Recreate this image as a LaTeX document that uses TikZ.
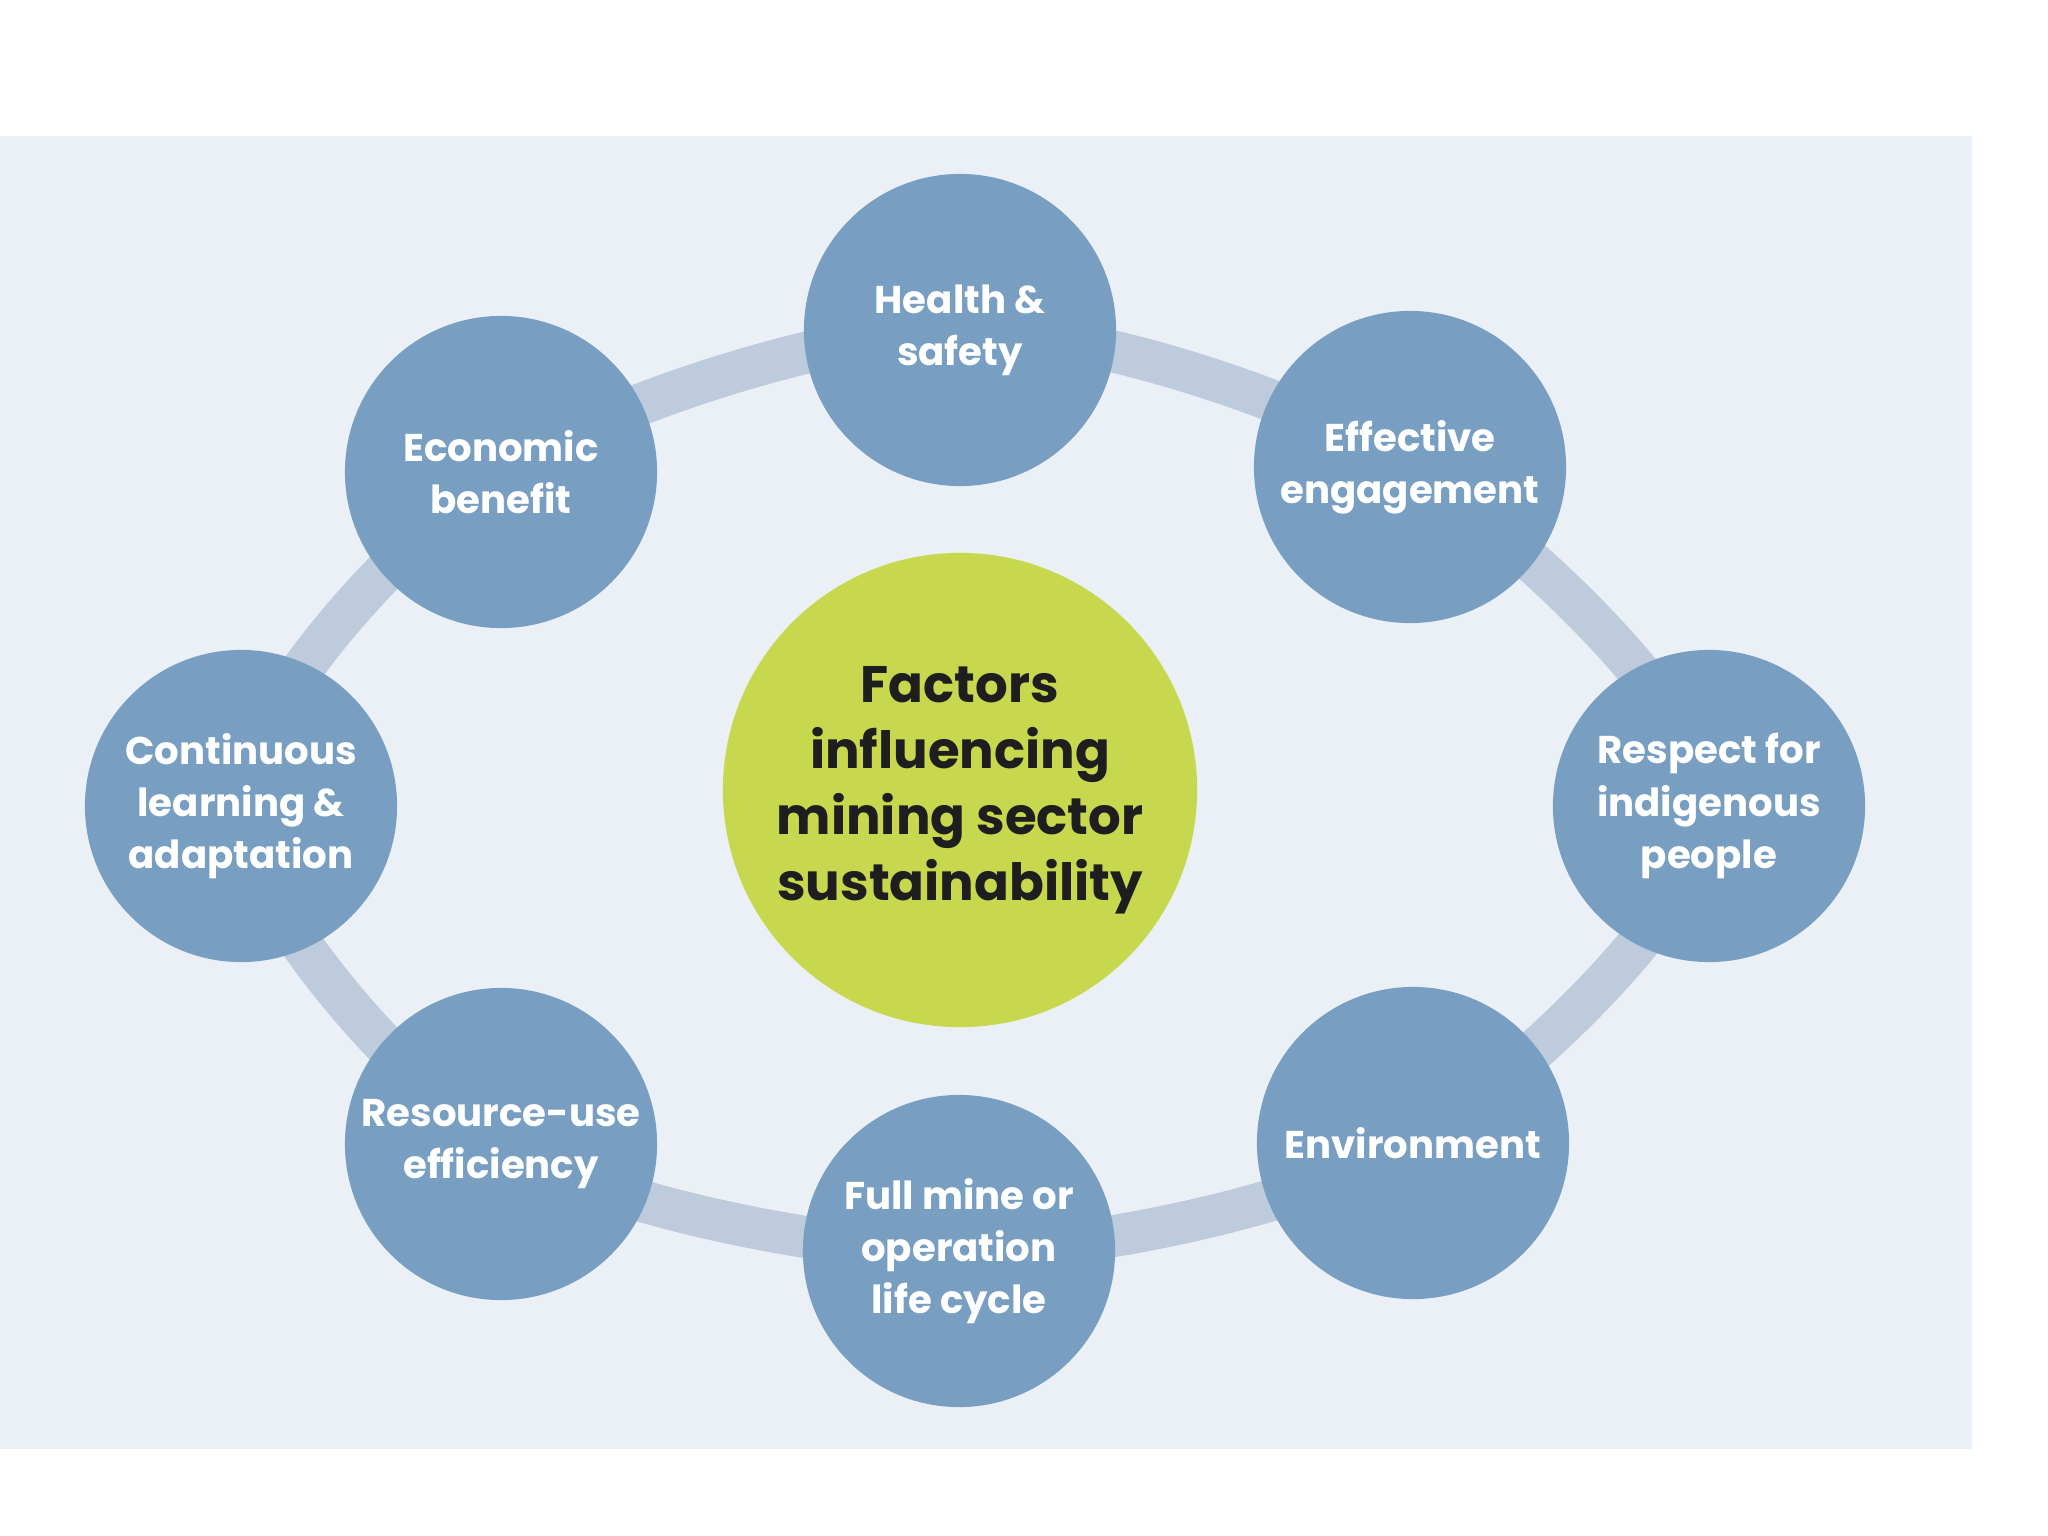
\documentclass[tikz,border=0pt]{standalone}
\usepackage{fontspec}
\setmainfont{Poppins}

\definecolor{panelbg}{HTML}{EBF0F7}
\definecolor{ringcol}{HTML}{BDCBDD}
\definecolor{factorcol}{HTML}{789FC2}
\definecolor{hubcol}{HTML}{C8D84E}
\definecolor{hubtext}{HTML}{1E1E1E}

\begin{document}
\begin{tikzpicture}[x=0.01cm,y=-0.01cm,
    factor/.style={circle,fill=factorcol,minimum size=3.12cm,
      inner sep=0pt,align=center,text=white,
      font=\bfseries\fontsize{11}{14.8}\selectfont},
    hub/.style={circle,fill=hubcol,minimum size=4.74cm,
      inner sep=0pt,align=center,text=hubtext,
      font=\bfseries\fontsize{14.6}{18.8}\selectfont},
    ring/.style={draw=ringcol,line width=0.42cm}]
  \useasboundingbox (0,0) rectangle (2048,1536);
  \fill[white] (0,0) rectangle (2048,1536);
  \fill[panelbg] (0,136) rectangle (1972,1449);

  % ring first, circles on top
  \coordinate (c1) at (960,330);
  \coordinate (c2) at (1410,467);
  \coordinate (c3) at (1709,806);
  \coordinate (c4) at (1413,1143);
  \coordinate (c5) at (959,1251);
  \coordinate (c6) at (501,1144);
  \coordinate (c7) at (241,806);
  \coordinate (c8) at (501,472);
  \draw[ring] plot[smooth cycle] coordinates {(c1) (c2) (c3) (c4) (c5) (c6) (c7) (c8)};

  \node[hub] (hub) at (960,790) {Factors\\influencing\\mining sector\\sustainability};

  \node[factor] (health) at (c1) {Health \&\\safety};
  \node[factor] (engage) at (c2) {Effective\\engagement};
  \node[factor] (respect) at (c3) {Respect for\\indigenous\\people};
  \node[factor] (environ) at (c4) {Environment};
  \node[factor] (lifecycle) at (c5) {Full mine or\\operation\\life cycle};
  \node[factor] (resource) at (c6) {Resource-use\\efficiency};
  \node[factor] (learning) at (c7) {Continuous\\learning \&\\adaptation};
  \node[factor] (economic) at (c8) {Economic\\benefit};
\end{tikzpicture}
\end{document}
